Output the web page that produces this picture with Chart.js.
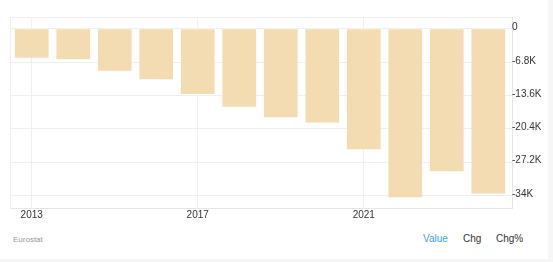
<!DOCTYPE html>
<html lang="en">

<head>
    <meta charset="UTF-8">
    <title>Eurostat</title>
    <style>
        body {
            margin: 0;
            background: #f6f6f6;
            font-family: "Liberation Sans", Arial, sans-serif;
        }

        .box {
            position: absolute;
            left: 0;
            top: 0;
            width: 548px;
            height: 259px;
            background: #fff;
        }

        #chart {
            position: absolute;
            left: 0;
            top: 0;
        }

        .source {
            position: absolute;
            left: 13px;
            top: 235px;
            font-size: 8px;
            color: #999;
        }

        .tabs span {
            position: absolute;
            top: 233px;
            font-size: 10px;
            color: #333;
        }
    </style>
</head>

<body>

    <div class="box">
        <canvas id="chart" width="548" height="225"></canvas>
        <div class="source">Eurostat</div>
        <div class="tabs">
            <span style="left:423px;color:#3d9ff0">Value</span>
            <span style="left:463px">Chg</span>
            <span style="left:496px">Chg%</span>
        </div>
    </div>

    <script src="https://cdn.jsdelivr.net/npm/chart.js"></script>

    <script>
        // yearly values
        const years = [2013, 2014, 2015, 2016, 2017, 2018, 2019, 2020, 2021, 2022, 2023, 2024];
        const values = [-5800, -6100, -8450, -10200, -13200, -15800, -17950, -19000, -24500, -34300, -29000, -33500];

        const yTicks = [0, -6800, -13600, -20400, -27200, -34000];
        const yTickLabels = ['0', '-6.8K', '-13.6K', '-20.4K', '-27.2K', '-34K'];
        const xTicks = [2013, 2017, 2021];

        const xMin = 2012.477, xMax = 2024.571;
        const yMin = -36550, yMax = 2450;

        const tickFont = { family: '"Liberation Sans", Arial, sans-serif', size: 10 };

        const data = {
            datasets: [{
                label: 'Value',
                data: years.map((y, i) => ({ x: y, y: values[i] })),
                backgroundColor: '#f3dcb1',
                borderWidth: 0,
                barThickness: 33
            }]
        };

        const config = {
            type: 'bar',
            data: data,
            options: {
                responsive: false,
                animation: false,
                layout: {
                    padding: { left: 10, top: 17, right: 0, bottom: 0 }
                },
                plugins: {
                    legend: { display: false },
                    tooltip: { enabled: false }
                },
                scales: {
                    x: {
                        type: 'linear',
                        min: xMin,
                        max: xMax,
                        offset: false,
                        afterBuildTicks: function (scale) {
                            scale.ticks = [xMin].concat(xTicks, [xMax]).map(v => ({ value: v }));
                        },
                        afterFit: function (scale) {
                            scale.height = 17;
                        },
                        ticks: {
                            color: '#333',
                            font: tickFont,
                            padding: 1,
                            maxRotation: 0,
                            autoSkip: false,
                            callback: function (v) {
                                return xTicks.includes(v) ? String(v) : '';
                            }
                        },
                        grid: {
                            color: '#efefef',
                            offset: false,
                            drawTicks: false
                        },
                        border: { color: '#e6e6e6' }
                    },
                    y: {
                        position: 'right',
                        min: yMin,
                        max: yMax,
                        afterBuildTicks: function (scale) {
                            scale.ticks = [yMin].concat(yTicks, [yMax]).map(v => ({ value: v }));
                        },
                        afterFit: function (scale) {
                            scale.width = 36;
                        },
                        ticks: {
                            color: '#333',
                            font: tickFont,
                            padding: 0,
                            labelOffset: -1.5,
                            autoSkip: false,
                            callback: function (v) {
                                const i = yTicks.indexOf(v);
                                return i >= 0 ? yTickLabels[i] : '';
                            }
                        },
                        grid: {
                            color: '#efefef',
                            drawTicks: false
                        },
                        border: { color: '#e6e6e6' }
                    }
                }
            }
        };

        const myChart = new Chart(document.getElementById('chart'), config);
    </script>

</body>

</html>
